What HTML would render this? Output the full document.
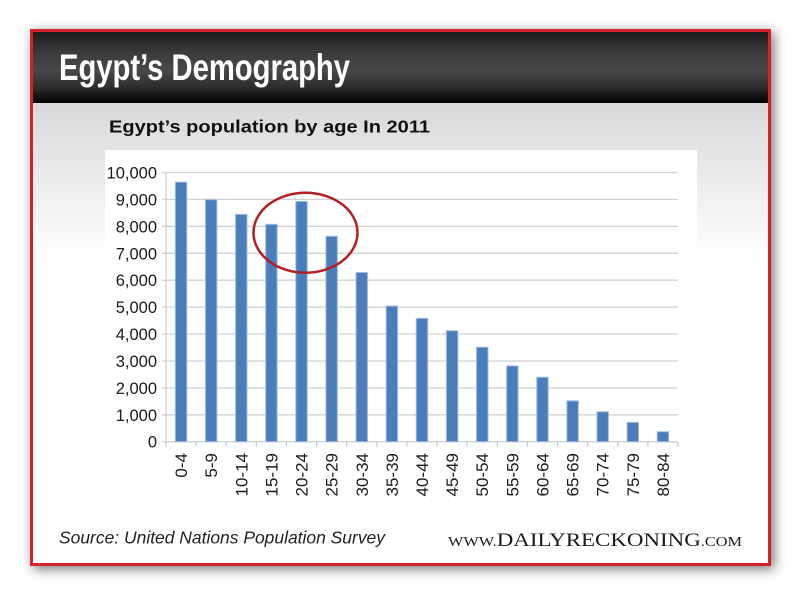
<!DOCTYPE html>
<html><head><meta charset="utf-8"><style>
html,body{margin:0;padding:0;background:#fff;width:800px;height:596px;overflow:hidden}
svg{display:block}
</style></head><body>
<svg width="800" height="596" viewBox="0 0 800 596" xmlns="http://www.w3.org/2000/svg">
<defs>
<filter id="sh" x="-10%" y="-10%" width="120%" height="120%">
<feGaussianBlur in="SourceAlpha" stdDeviation="6"/>
<feOffset dx="3" dy="3" result="b"/>
<feComponentTransfer><feFuncA type="linear" slope="0.55"/></feComponentTransfer>
<feMerge><feMergeNode/><feMergeNode in="SourceGraphic"/></feMerge>
</filter>
<linearGradient id="hd" x1="0" y1="0" x2="0" y2="1">
<stop offset="0" stop-color="#1c1c1d"/>
<stop offset="0.3" stop-color="#3c3c3e"/>
<stop offset="0.55" stop-color="#48484a"/>
<stop offset="0.8" stop-color="#2a2a2b"/>
<stop offset="1" stop-color="#000"/>
</linearGradient>
<linearGradient id="ct" x1="0" y1="0" x2="0" y2="1">
<stop offset="0" stop-color="#d8d9db"/>
<stop offset="0.34" stop-color="#ffffff"/>
<stop offset="1" stop-color="#ffffff"/>
</linearGradient>
</defs>
<rect x="30" y="29" width="741" height="537" fill="#d3222a" filter="url(#sh)"/>
<rect x="33" y="103" width="735" height="460" fill="url(#ct)"/>
<rect x="33" y="32" width="735" height="71" fill="url(#hd)"/>
<text x="59" y="80" font-family="Liberation Sans, Arial, sans-serif" font-weight="bold" font-size="36.6" fill="#fff" textLength="291" lengthAdjust="spacingAndGlyphs">Egypt’s Demography</text>
<rect x="105" y="150" width="592" height="350" fill="#fff"/>
<text x="109" y="132.7" font-family="Liberation Sans, Arial, sans-serif" font-weight="bold" font-size="17.7" fill="#111" textLength="321" lengthAdjust="spacingAndGlyphs">Egypt’s population by age In 2011</text>
<g stroke="#d2d2d2" stroke-width="1.3">
<line x1="162" y1="172.5" x2="678" y2="172.5"/>
<line x1="162" y1="199.4" x2="678" y2="199.4"/>
<line x1="162" y1="226.3" x2="678" y2="226.3"/>
<line x1="162" y1="253.3" x2="678" y2="253.3"/>
<line x1="162" y1="280.2" x2="678" y2="280.2"/>
<line x1="162" y1="307.1" x2="678" y2="307.1"/>
<line x1="162" y1="334.0" x2="678" y2="334.0"/>
<line x1="162" y1="361.0" x2="678" y2="361.0"/>
<line x1="162" y1="387.9" x2="678" y2="387.9"/>
<line x1="162" y1="414.8" x2="678" y2="414.8"/>
<line x1="162" y1="441.7" x2="678" y2="441.7"/>
<line x1="166" y1="172.5" x2="166" y2="441.7"/>
</g>
<g stroke="#c8c8c8" stroke-width="1.2" id="ticks"></g>
<g font-family="Liberation Sans, Arial, sans-serif" font-size="16.5" fill="#1a1a1a" text-anchor="end">
<text x="157" y="178.5">10,000</text>
<text x="157" y="205.4">9,000</text>
<text x="157" y="232.3">8,000</text>
<text x="157" y="259.3">7,000</text>
<text x="157" y="286.2">6,000</text>
<text x="157" y="313.1">5,000</text>
<text x="157" y="340.0">4,000</text>
<text x="157" y="367.0">3,000</text>
<text x="157" y="393.9">2,000</text>
<text x="157" y="420.8">1,000</text>
<text x="157" y="447.7">0</text>
</g>
<g id="bars" fill="#4a7ebb" stroke="#9dbbe0" stroke-width="1"></g>
<g id="xl" font-family="Liberation Sans, Arial, sans-serif" font-size="17" fill="#1a1a1a" text-anchor="end"></g>
<ellipse cx="305.5" cy="232.7" rx="52" ry="40" fill="none" stroke="#b51f24" stroke-width="2.5"/>
<text x="59" y="543.3" font-family="Liberation Sans, Arial, sans-serif" font-style="italic" font-size="17.5" fill="#222" textLength="326" lengthAdjust="spacingAndGlyphs">Source: United Nations Population Survey</text>
<text x="448" y="546" font-family="Liberation Serif, Times New Roman, serif" fill="#1a1a1a" textLength="294" lengthAdjust="spacingAndGlyphs"><tspan font-size="13.5">WWW.</tspan><tspan font-size="19">DAILYRECKONING</tspan><tspan font-size="13.5">.COM</tspan></text>
</svg>
<script>
(function(){
var ns="http://www.w3.org/2000/svg";
var vals=[9640,8990,8444,8074,8926,7630,6285,5037,4581,4122,3507,2815,2396,1518,1111,716,370];
var labs=["0-4","5-9","10-14","15-19","20-24","25-29","30-34","35-39","40-44","45-49","50-54","55-59","60-64","65-69","70-74","75-79","80-84"];
var x0=166,w=512/17,y0=441.7,k=0.02692;
var bars=document.getElementById("bars"),xl=document.getElementById("xl"),tk=document.getElementById("ticks");
for(var i=0;i<=17;i++){var l=document.createElementNS(ns,"line");var xx=x0+w*i;l.setAttribute("x1",xx);l.setAttribute("x2",xx);l.setAttribute("y1",y0);l.setAttribute("y2",y0+5);tk.appendChild(l);}
for(var i=0;i<17;i++){
var cx=x0+w*(i+0.5);var h=vals[i]*k;
var r=document.createElementNS(ns,"rect");r.setAttribute("x",cx-5.7);r.setAttribute("y",y0-h);r.setAttribute("width",11.4);r.setAttribute("height",h);bars.appendChild(r);
var t=document.createElementNS(ns,"text");var tx=cx+6,ty=453;t.setAttribute("x",tx);t.setAttribute("y",ty);t.setAttribute("transform","rotate(-90 "+tx+" "+ty+")");t.textContent=labs[i];xl.appendChild(t);
}
})();
</script>
</body></html>
